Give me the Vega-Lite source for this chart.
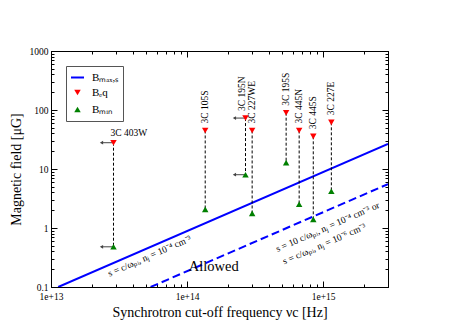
{
  "$schema": "https://vega.github.io/schema/vega-lite/v6.json",
  "width": 337,
  "height": 236,
  "autosize": {"type": "none"},
  "padding": {"left": 51, "top": 51, "right": 77, "bottom": 42},
  "background": "white",
  "config": {
    "font": "Liberation Serif",
    "view": {"stroke": "black", "strokeWidth": 1},
    "axis": {"grid": false, "domainColor": "black", "tickColor": "black", "labelColor": "black", "titleColor": "black", "titleFontWeight": "normal", "labelFont": "Liberation Serif", "titleFont": "Liberation Serif"},
    "legend": {"orient": "top-left", "offset": 15, "strokeColor": "#555555", "fillColor": "white", "padding": 4, "labelFontSize": 11, "labelOffset": 7, "rowPadding": 2, "symbolStrokeWidth": 2, "labelColor": "black", "labelFont": "Liberation Serif"}
  },
  "datasets": {
    "sources": [
      {"name": "3C 403W", "nu": 2.88e13, "Beq": 27.9, "Bmin": 0.48},
      {"name": "3C 105S", "nu": 1.36e14, "Beq": 45, "Bmin": 2.07},
      {"name": "3C 195N", "nu": 2.69e14, "Beq": 73, "Bmin": 8.0},
      {"name": "3C 227WE", "nu": 3.01e14, "Beq": 45, "Bmin": 1.77},
      {"name": "3C 195S", "nu": 5.35e14, "Beq": 90, "Bmin": 12.8},
      {"name": "3C 445N", "nu": 6.67e14, "Beq": 45, "Bmin": 2.52},
      {"name": "3C 445S", "nu": 8.47e14, "Beq": 35.8, "Bmin": 1.40},
      {"name": "3C 227E", "nu": 1.15e15, "Beq": 61.8, "Bmin": 4.19}
    ],
    "bmax": [
      {"nu": 1.13e13, "B": 0.1},
      {"nu": 3e15, "B": 26.5}
    ],
    "bmax10": [
      {"nu": 5.4e13, "B": 0.1},
      {"nu": 3e15, "B": 5.55}
    ],
    "arrows": [
      {"nu": 2.88e13, "nu_end": 2.35e13, "B": 27.9},
      {"nu": 2.88e13, "nu_end": 2.35e13, "B": 0.48},
      {"nu": 2.69e14, "nu_end": 2.23e14, "B": 73},
      {"nu": 2.69e14, "nu_end": 2.23e14, "B": 8.0}
    ],
    "notes": [
      {"text": "s = c/ωₚᵢ, nⱼ = 10⁻⁴ cm⁻³", "nu": 5.3e13, "B": 0.335},
      {"text": "s = 10 c/ωₚᵢ, nⱼ = 10⁻⁴ cm⁻³ or", "nu": 1.08e15, "B": 1.04},
      {"text": "s = c/ωₚᵢ, nⱼ = 10⁻⁶ cm⁻³", "nu": 1.02e15, "B": 0.536}
    ],
    "allowed": [
      {"text": "Allowed", "nu": 1.57e14, "B": 0.221}
    ]
  },
  "resolve": {"scale": {"x": "shared", "y": "shared"}, "axis": {"x": "independent", "y": "independent"}},
  "layer": [
    {
      "data": {"name": "bmax"},
      "mark": {"type": "line", "strokeWidth": 2, "color": "#0000ff", "clip": true},
      "encoding": {
        "x": {"field": "nu", "type": "quantitative", "scale": {"type": "log", "domain": [1e13, 3e15], "nice": false},
          "axis": {
            "orient": "bottom",
            "values": [1e13, 2e13, 3e13, 4e13, 5e13, 6e13, 7e13, 8e13, 9e13, 1e14, 2e14, 3e14, 4e14, 5e14, 6e14, 7e14, 8e14, 9e14, 1e15, 2e15],
            "tickSize": {"condition": {"test": "abs(log(datum.value)/LN10 - round(log(datum.value)/LN10)) < 0.001", "value": -6}, "value": -3},
            "labelExpr": "abs(log(datum.value)/LN10 - round(log(datum.value)/LN10)) < 0.001 ? '1e+' + round(log(datum.value)/LN10) : ''",
            "labelFontSize": 9.5, "labelPadding": 10, "labelFlush": false, "labelOverlap": false,
            "title": "Synchrotron cut-off frequency νc [Hz]", "titleFontSize": 14, "titlePadding": 2
          }},
        "y": {"field": "B", "type": "quantitative", "scale": {"type": "log", "domain": [0.1, 1000], "nice": false},
          "axis": {
            "orient": "left",
            "values": [0.1, 0.2, 0.3, 0.4, 0.5, 0.6, 0.7, 0.8, 0.9, 1, 2, 3, 4, 5, 6, 7, 8, 9, 10, 20, 30, 40, 50, 60, 70, 80, 90, 100, 200, 300, 400, 500, 600, 700, 800, 900, 1000],
            "tickSize": {"condition": {"test": "abs(log(datum.value)/LN10 - round(log(datum.value)/LN10)) < 0.001", "value": -6}, "value": -3},
            "labelExpr": "abs(log(datum.value)/LN10 - round(log(datum.value)/LN10)) < 0.001 ? format(datum.value, '~g') : ''",
            "labelFontSize": 9.5, "labelPadding": 9, "labelFlush": false, "labelOverlap": false,
            "title": "Magnetic field [μG]", "titleFontSize": 14, "titlePadding": 6
          }}
      }
    },
    {
      "data": {"name": "bmax10"},
      "mark": {"type": "line", "strokeWidth": 2, "color": "#0000ff", "strokeDash": [8, 4], "clip": true},
      "encoding": {
        "x": {"field": "nu", "type": "quantitative", "scale": {"type": "log", "domain": [1e13, 3e15], "nice": false},
          "axis": {
            "orient": "top",
            "values": [1e13, 2e13, 3e13, 4e13, 5e13, 6e13, 7e13, 8e13, 9e13, 1e14, 2e14, 3e14, 4e14, 5e14, 6e14, 7e14, 8e14, 9e14, 1e15, 2e15],
            "tickSize": {"condition": {"test": "abs(log(datum.value)/LN10 - round(log(datum.value)/LN10)) < 0.001", "value": -6}, "value": -3},
            "labels": false, "title": null
          }},
        "y": {"field": "B", "type": "quantitative", "scale": {"type": "log", "domain": [0.1, 1000], "nice": false},
          "axis": {
            "orient": "right",
            "values": [0.1, 0.2, 0.3, 0.4, 0.5, 0.6, 0.7, 0.8, 0.9, 1, 2, 3, 4, 5, 6, 7, 8, 9, 10, 20, 30, 40, 50, 60, 70, 80, 90, 100, 200, 300, 400, 500, 600, 700, 800, 900, 1000],
            "tickSize": {"condition": {"test": "abs(log(datum.value)/LN10 - round(log(datum.value)/LN10)) < 0.001", "value": -6}, "value": -3},
            "labels": false, "title": null
          }}
      }
    },
    {
      "data": {"name": "sources"},
      "mark": {"type": "rule", "color": "black", "strokeWidth": 1, "strokeDash": [3, 2]},
      "encoding": {
        "x": {"field": "nu", "type": "quantitative", "scale": {"type": "log", "domain": [1e13, 3e15], "nice": false}, "axis": null},
        "y": {"field": "Beq", "type": "quantitative", "scale": {"type": "log", "domain": [0.1, 1000], "nice": false}, "axis": null},
        "y2": {"field": "Bmin"}
      }
    },
    {
      "data": {"name": "arrows"},
      "mark": {"type": "rule", "color": "#444444", "strokeWidth": 1},
      "encoding": {
        "x": {"field": "nu", "type": "quantitative", "scale": {"type": "log", "domain": [1e13, 3e15], "nice": false}, "axis": null},
        "x2": {"field": "nu_end"},
        "y": {"field": "B", "type": "quantitative", "scale": {"type": "log", "domain": [0.1, 1000], "nice": false}, "axis": null}
      }
    },
    {
      "data": {"name": "arrows"},
      "mark": {"type": "point", "shape": "triangle-left", "filled": true, "color": "#444444", "size": 14, "opacity": 1},
      "encoding": {
        "x": {"field": "nu_end", "type": "quantitative", "scale": {"type": "log", "domain": [1e13, 3e15], "nice": false}, "axis": null},
        "y": {"field": "B", "type": "quantitative", "scale": {"type": "log", "domain": [0.1, 1000], "nice": false}, "axis": null}
      }
    },
    {
      "data": {"name": "sources"},
      "transform": [{"fold": ["Beq", "Bmin"], "as": ["series", "B"]}],
      "mark": {"type": "point", "filled": true, "opacity": 1, "strokeWidth": 2},
      "encoding": {
        "x": {"field": "nu", "type": "quantitative", "scale": {"type": "log", "domain": [1e13, 3e15], "nice": false}, "axis": null},
        "y": {"field": "B", "type": "quantitative", "scale": {"type": "log", "domain": [0.1, 1000], "nice": false}, "axis": null},
        "fill": {"field": "series", "type": "nominal", "scale": {"domain": ["Bmax,s", "Beq", "Bmin"], "range": ["transparent", "#ff0000", "#008000"]},
          "legend": {"title": null, "labelExpr": "datum.label == 'Bmax,s' ? 'Bₘₐₓ,ₛ' : datum.label == 'Beq' ? 'Bₑq' : 'Bₘᵢₙ'"}},
        "stroke": {"field": "series", "type": "nominal", "scale": {"domain": ["Bmax,s", "Beq", "Bmin"], "range": ["#0000ff", "transparent", "transparent"]},
          "legend": {"title": null, "labelExpr": "datum.label == 'Bmax,s' ? 'Bₘₐₓ,ₛ' : datum.label == 'Beq' ? 'Bₑq' : 'Bₘᵢₙ'"}},
        "shape": {"field": "series", "type": "nominal", "scale": {"domain": ["Bmax,s", "Beq", "Bmin"], "range": ["stroke", "triangle-down", "triangle-up"]},
          "legend": {"title": null, "labelExpr": "datum.label == 'Bmax,s' ? 'Bₘₐₓ,ₛ' : datum.label == 'Beq' ? 'Bₑq' : 'Bₘᵢₙ'"}},
        "size": {"field": "series", "type": "nominal", "scale": {"type": "ordinal", "domain": ["Bmax,s", "Beq", "Bmin"], "range": [169, 42, 42]},
          "legend": {"title": null, "labelExpr": "datum.label == 'Bmax,s' ? 'Bₘₐₓ,ₛ' : datum.label == 'Beq' ? 'Bₑq' : 'Bₘᵢₙ'"}}
      }
    },
    {
      "data": {"name": "sources"},
      "transform": [{"filter": "datum.name != '3C 403W' && datum.name != '3C 195N'"}],
      "mark": {"type": "text", "angle": 270, "align": "left", "baseline": "middle", "dx": 7, "fontSize": 9.5, "color": "black"},
      "encoding": {
        "x": {"field": "nu", "type": "quantitative", "scale": {"type": "log", "domain": [1e13, 3e15], "nice": false}, "axis": null},
        "y": {"field": "Beq", "type": "quantitative", "scale": {"type": "log", "domain": [0.1, 1000], "nice": false}, "axis": null},
        "text": {"field": "name"}
      }
    },
    {
      "data": {"name": "sources"},
      "transform": [{"filter": "datum.name == '3C 195N'"}],
      "mark": {"type": "text", "angle": 270, "align": "left", "baseline": "middle", "dx": 7, "dy": -4, "fontSize": 9.5, "color": "black"},
      "encoding": {
        "x": {"field": "nu", "type": "quantitative", "scale": {"type": "log", "domain": [1e13, 3e15], "nice": false}, "axis": null},
        "y": {"field": "Beq", "type": "quantitative", "scale": {"type": "log", "domain": [0.1, 1000], "nice": false}, "axis": null},
        "text": {"field": "name"}
      }
    },
    {
      "data": {"name": "sources"},
      "transform": [{"filter": "datum.name == '3C 403W'"}],
      "mark": {"type": "text", "align": "left", "baseline": "alphabetic", "dx": -3, "dy": -7, "fontSize": 9.5, "color": "black"},
      "encoding": {
        "x": {"field": "nu", "type": "quantitative", "scale": {"type": "log", "domain": [1e13, 3e15], "nice": false}, "axis": null},
        "y": {"field": "Beq", "type": "quantitative", "scale": {"type": "log", "domain": [0.1, 1000], "nice": false}, "axis": null},
        "text": {"field": "name"}
      }
    },
    {
      "data": {"name": "notes"},
      "mark": {"type": "text", "angle": 336.5, "align": "center", "baseline": "middle", "fontSize": 9.5, "color": "black"},
      "encoding": {
        "x": {"field": "nu", "type": "quantitative", "scale": {"type": "log", "domain": [1e13, 3e15], "nice": false}, "axis": null},
        "y": {"field": "B", "type": "quantitative", "scale": {"type": "log", "domain": [0.1, 1000], "nice": false}, "axis": null},
        "text": {"field": "text"}
      }
    },
    {
      "data": {"name": "allowed"},
      "mark": {"type": "text", "align": "center", "baseline": "middle", "fontSize": 14.5, "color": "black"},
      "encoding": {
        "x": {"field": "nu", "type": "quantitative", "scale": {"type": "log", "domain": [1e13, 3e15], "nice": false}, "axis": null},
        "y": {"field": "B", "type": "quantitative", "scale": {"type": "log", "domain": [0.1, 1000], "nice": false}, "axis": null},
        "text": {"field": "text"}
      }
    }
  ]
}
